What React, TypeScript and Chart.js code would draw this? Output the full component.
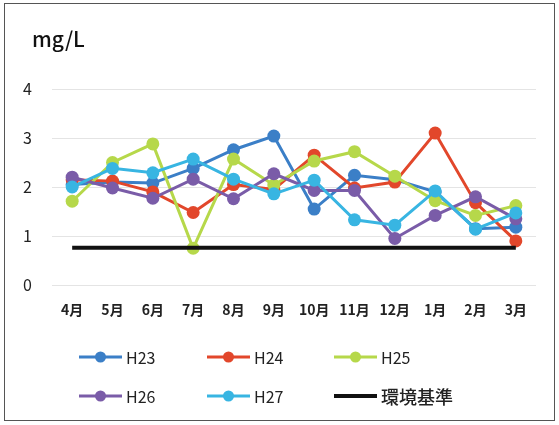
import React, { useEffect, useRef } from "react";
import { Chart, registerables } from "chart.js";

Chart.register(...registerables);

const months = ["4月", "5月", "6月", "7月", "8月", "9月", "10月", "11月", "12月", "1月", "2月", "3月"];
const h23 = [2.05, 2.1, 2.08, 2.38, 2.76, 3.04, 1.55, 2.24, 2.15, 1.9, 1.15, 1.18];
const h24 = [2.15, 2.12, 1.9, 1.48, 2.05, 1.95, 2.65, 1.98, 2.1, 3.1, 1.68, 0.9];
const h25 = [1.71, 2.5, 2.88, 0.75, 2.57, 2.04, 2.53, 2.72, 2.22, 1.72, 1.42, 1.62];
const h26 = [2.2, 1.98, 1.77, 2.16, 1.76, 2.27, 1.93, 1.93, 0.95, 1.42, 1.8, 1.35];
const h27 = [2.0, 2.38, 2.29, 2.57, 2.16, 1.86, 2.14, 1.33, 1.22, 1.92, 1.14, 1.47];
const standard = [0.76, 0.76, 0.76, 0.76, 0.76, 0.76, 0.76, 0.76, 0.76, 0.76, 0.76, 0.76];
const seriesNames = ["H23", "H24", "H25", "H26", "H27", "環境基準"];
const yTicks = [0, 1, 2, 3, 4];
const unitLabel = "mg/L";

const colors = ["#3b7fc7", "#e2472b", "#b6d84a", "#7a5ca8", "#38b5e2", "#111111"];
const FONT = "'Noto Sans CJK JP', 'Noto Sans', sans-serif";

const overlayPlugin = {
  id: "overlay",
  afterDraw(chart: any) {
    const ctx = chart.ctx;
    ctx.save();
    // unit title
    ctx.fillStyle = "#111";
    ctx.font = `500 21px ${FONT}`;
    ctx.textAlign = "left";
    ctx.textBaseline = "middle";
    ctx.fillText(unitLabel, 32, 39);
    // legend
    const cols = [79, 207, 334];
    const rows = [357, 396];
    chart.data.datasets.forEach((ds: any, i: number) => {
      const x = cols[i % 3];
      const y = rows[Math.floor(i / 3)];
      ctx.strokeStyle = ds.borderColor;
      ctx.lineWidth = i === 5 ? 4 : 3;
      ctx.beginPath();
      ctx.moveTo(x, y);
      ctx.lineTo(x + 43, y);
      ctx.stroke();
      if (i < 5) {
        ctx.fillStyle = ds.borderColor;
        ctx.beginPath();
        ctx.arc(x + 21.5, y, 5.5, 0, Math.PI * 2);
        ctx.fill();
      }
      ctx.fillStyle = "#222";
      ctx.font = i === 5 ? `500 18px ${FONT}` : `16px ${FONT}`;
      ctx.textAlign = "left";
      ctx.textBaseline = "middle";
      ctx.fillText(ds.label, x + 47, y + 1);
    });
    ctx.restore();
  },
};

export default function App() {
  const ref = useRef<HTMLCanvasElement | null>(null);
  useEffect(() => {
    if (!ref.current) return;
    const all = [h23, h24, h25, h26, h27, standard];
    const chart = new Chart(ref.current, {
      type: "line",
      data: {
        labels: months,
        datasets: all.map((d, i) => ({
          label: seriesNames[i],
          data: d,
          borderColor: colors[i],
          backgroundColor: colors[i],
          borderWidth: i === 5 ? 4 : 3,
          pointRadius: i === 5 ? 0 : 6.5,
          pointHoverRadius: i === 5 ? 0 : 6.5,
          pointBorderWidth: 0,
          tension: 0,
          order: 6 - i,
        })),
      },
      options: {
        responsive: false,
        animation: false,
        layout: { padding: { top: 89, right: 23, bottom: 100, left: 0 } },
        plugins: { legend: { display: false }, tooltip: { enabled: false } },
        scales: {
          x: {
            offset: true,
            grid: { display: false, drawTicks: false },
            border: { display: false },
            ticks: { color: "#222", font: { family: FONT, size: 14, weight: "bold" }, padding: 16, maxRotation: 0 },
            afterFit: (s: any) => { s.height = 40; },
          },
          y: {
            min: 0,
            max: 4,
            afterBuildTicks: (s: any) => { s.ticks = yTicks.map((v) => ({ value: v })); },
            grid: { color: "#e4e4e4", lineWidth: 1, drawTicks: false },
            border: { display: false },
            ticks: { color: "#222", font: { family: FONT, size: 16 }, padding: 20 },
            afterFit: (s: any) => { s.width = 52; },
          },
        },
      },
      plugins: [overlayPlugin],
    });
    return () => chart.destroy();
  }, []);
  return (
    <div style={{ position: "fixed", left: 0, top: 0, width: 559, height: 425, background: "#fff" }}>
      <canvas ref={ref} width={559} height={425} style={{ display: "block" }} />
      <div style={{ position: "absolute", left: 4, top: 3, width: 549, height: 416, border: "1.5px solid #555", pointerEvents: "none" }} />
    </div>
  );
}
